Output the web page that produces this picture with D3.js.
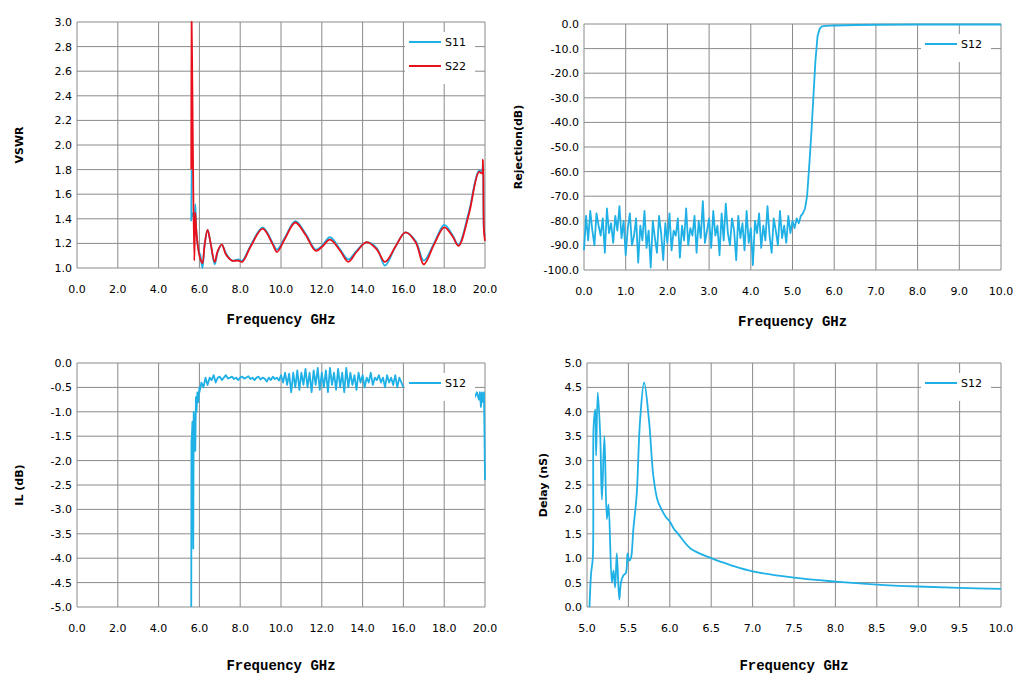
<!DOCTYPE html>
<html><head><meta charset="utf-8">
<script src="https://cdn.jsdelivr.net/npm/d3@7"></script>
<style>body{margin:0;background:#fff}svg{display:block}</style>
</head><body><svg id="chart" width="1021" height="691"></svg>
<script>
// VSWR (0-20 GHz)
const vswrF11 = [5.6,5.62,5.64,5.7,5.75,5.8,5.85,5.95,6.05,6.15,6.25,6.4,6.55,6.75,6.9,7.1,7.3,7.6,7.9,8.1,8.5,9.1,9.6,9.8,10.2,10.7,11.2,11.7,12.0,12.4,12.9,13.3,13.7,14.2,14.7,15.1,15.6,16.1,16.6,17.0,17.5,18.0,18.4,18.7,19.2,19.7,19.85,19.9,19.95,20.0];
const vswrS11 = [1.38,1.8,1.42,1.45,1.35,1.52,1.3,1.15,1.1,1.0,1.18,1.31,1.2,1.03,1.13,1.19,1.12,1.06,1.07,1.06,1.18,1.33,1.2,1.15,1.25,1.38,1.28,1.15,1.18,1.25,1.15,1.07,1.14,1.21,1.16,1.02,1.17,1.29,1.22,1.06,1.2,1.35,1.27,1.19,1.45,1.79,1.79,1.85,1.3,1.26];
const vswrF22 = [5.6,5.62,5.65,5.68,5.75,5.8,5.85,5.95,6.05,6.15,6.25,6.4,6.55,6.75,6.9,7.1,7.3,7.6,7.9,8.1,8.5,9.1,9.6,9.8,10.2,10.7,11.2,11.7,12.0,12.4,12.9,13.3,13.7,14.2,14.7,15.1,15.6,16.1,16.6,17.0,17.5,18.0,18.4,18.7,19.2,19.7,19.85,19.9,19.95,20.0];
const vswrS22 = [1.8,3.0,2.55,2.0,1.06,1.45,1.3,1.15,1.07,1.04,1.18,1.31,1.2,1.05,1.14,1.19,1.11,1.06,1.06,1.05,1.17,1.32,1.19,1.13,1.24,1.37,1.27,1.14,1.17,1.23,1.14,1.05,1.13,1.21,1.15,1.05,1.17,1.29,1.21,1.03,1.19,1.33,1.26,1.18,1.43,1.78,1.77,1.88,1.3,1.22];

// Rejection S12 (0-10 GHz), noise floor 0..5.2 GHz every 0.05
const rejNoise = [-92,-78,-88,-76,-84,-90,-77,-82,-86,-79,-93,-75,-85,-81,-89,-78,-84,-74,-87,-80,-94,-83,-77,-90,-86,-79,-97,-82,-88,-76,-91,-84,-99,-80,-87,-93,-78,-85,-96,-81,-89,-77,-92,-84,-86,-79,-95,-82,-88,-75,-90,-83,-86,-78,-93,-80,-87,-72,-89,-84,-79,-91,-76,-86,-82,-94,-77,-88,-73,-85,-90,-79,-84,-96,-78,-87,-81,-92,-76,-89,-83,-98,-80,-85,-77,-91,-82,-88,-74,-86,-93,-79,-84,-90,-76,-87,-82,-89,-78,-85,-80,-83,-79,-81,-78];
const rejTailF = [5.25,5.3,5.35,5.4,5.45,5.5,5.55,5.6,5.65,5.7,5.8,6.0,6.5,7.0,8.0,9.0,10.0];
const rejTail = [-77,-75,-70,-58,-45,-30,-15,-5,-2,-1,-0.8,-0.6,-0.4,-0.3,-0.2,-0.2,-0.2];

// IL S12 (0-20 GHz)
const ilEdgeF = [5.6,5.61,5.63,5.66,5.7,5.72,5.76,5.8,5.83,5.86,5.9,5.95,6.0];
const ilEdge = [-5.0,-1.6,-1.5,-1.2,-3.8,-1.0,-1.4,-1.8,-0.7,-1.0,-0.6,-0.8,-0.5];
const ilMid = [-0.6,-0.4,-0.5,-0.3,-0.45,-0.3,-0.35,-0.25,-0.4,-0.3,-0.28,-0.35,-0.3,-0.25,-0.32,-0.3,-0.28,-0.33,-0.3,-0.35,-0.3,-0.28,-0.32,-0.3,-0.27,-0.33,-0.3,-0.35,-0.3,-0.28,-0.34,-0.3,-0.32,-0.38,-0.3,-0.35,-0.28,-0.33,-0.3,-0.36,-0.25,-0.4,-0.2,-0.45,-0.22,-0.6,-0.2,-0.5,-0.15,-0.55,-0.2,-0.45,-0.12,-0.5,-0.2,-0.6,-0.15,-0.45,-0.1,-0.55,-0.2,-0.5,-0.15,-0.6,-0.1,-0.45,-0.2,-0.55,-0.12,-0.5,-0.2,-0.6,-0.1,-0.5,-0.2,-0.45,-0.25,-0.55,-0.2,-0.4,-0.25,-0.5,-0.3,-0.4,-0.2,-0.45,-0.3,-0.35,-0.25,-0.4,-0.3,-0.5,-0.25,-0.4,-0.3,-0.45,-0.25,-0.5,-0.3,-0.4,-0.5];
const ilEndF = [19.3,19.4,19.5,19.6,19.7,19.75,19.8,19.85,19.9,19.95,20.0];
const ilEnd = [-0.6,-0.65,-0.7,-0.6,-0.75,-0.6,-0.9,-0.6,-0.8,-0.6,-2.4];

// Delay S12 (5-10 GHz)
const delayF = [5.03,5.05,5.07,5.08,5.1,5.11,5.13,5.16,5.18,5.21,5.24,5.26,5.3,5.32,5.34,5.36,5.39,5.41,5.44,5.47,5.49,5.51,5.53,5.56,5.6,5.64,5.69,5.75,5.8,5.85,5.9,5.95,6.0,6.05,6.1,6.25,6.5,6.75,7.0,7.5,8.0,8.5,9.0,9.5,10.0];
const delay = [0,0.7,1.0,3.7,4.05,3.1,4.4,3.5,2.2,3.5,1.8,2.1,0.5,0.75,0.4,1.1,0.15,0.5,0.65,0.7,1.1,0.95,1.0,1.6,2.3,3.8,4.6,3.8,2.7,2.2,2.0,1.85,1.75,1.6,1.5,1.2,1.0,0.85,0.73,0.6,0.52,0.46,0.42,0.39,0.37];

const rejF = d3.range(rejNoise.length).map(i => i * 0.05);
const ilMidF = d3.range(ilMid.length).map(i => 6.0 + i * 0.1);
const toPts = (xs, ys) => xs.map((x, i) => [x, ys[i]]);

const BLUE = '#1fb0e6', RED = '#e8101a';
const svg = d3.select('#chart');

function panel(o) {
  const x = d3.scaleLinear().domain(o.xd).range([o.l, o.r]);
  const y = d3.scaleLinear().domain(o.yd).range([o.b, o.t]);
  const g = svg.append('g');
  const xt = d3.range(o.xd[0], o.xd[1] + 1e-9, o.xs);
  const yt = d3.range(o.yd[0], o.yd[1] + 1e-9, o.ys);
  g.selectAll('.vx').data(xt).enter().append('line')
    .attr('x1', d => x(d)).attr('x2', d => x(d)).attr('y1', o.t).attr('y2', o.b)
    .attr('stroke', '#8a8a8a').attr('stroke-width', 1);
  g.selectAll('.hy').data(yt).enter().append('line')
    .attr('x1', o.l).attr('x2', o.r).attr('y1', d => y(d)).attr('y2', d => y(d))
    .attr('stroke', '#8a8a8a').attr('stroke-width', 1);
  g.selectAll('.xl').data(xt).enter().append('text')
    .attr('x', d => x(d)).attr('y', o.b + 25).attr('text-anchor', 'middle')
    .attr('font-family', 'DejaVu Sans').attr('font-size', 11).text(d => d.toFixed(1));
  g.selectAll('.yl').data(yt).enter().append('text')
    .attr('x', o.l - 5).attr('y', d => y(d) + 4).attr('text-anchor', 'end')
    .attr('font-family', 'DejaVu Sans').attr('font-size', 11).text(d => d.toFixed(1));
  g.append('text').attr('x', (o.l + o.r) / 2).attr('y', o.xty).attr('text-anchor', 'middle')
    .attr('font-family', "'Liberation Mono', 'DejaVu Sans Mono', monospace").attr('font-weight', 'bold').attr('font-size', 14)
    .text('Frequency GHz');
  g.append('text').attr('transform', `translate(${o.yt},${(o.t + o.b) / 2}) rotate(-90)`)
    .attr('text-anchor', 'middle').attr('font-family', 'DejaVu Sans').attr('font-weight', 'bold')
    .attr('font-size', 11).text(o.ylabel);
  const line = d3.line().x(d => x(d[0])).y(d => y(d[1])).defined(d => d[1] != null)
    .curve(o.smooth ? d3.curveCatmullRom.alpha(0.5) : d3.curveLinear);
  o.series.forEach(s => {
    g.append('path').attr('d', line(s.pts)).attr('fill', 'none')
      .attr('stroke', s.color).attr('stroke-width', 1.8).attr('stroke-linejoin', 'round');
  });
  // legend
  const lx = o.r - 80, ly = o.t + 10;
  g.append('rect').attr('x', lx).attr('y', ly).attr('width', 70).attr('height', o.legend.length * 24 + 4)
    .attr('fill', '#fff');
  o.legend.forEach((s, i) => {
    const yy = ly + 10 + i * 24;
    g.append('line').attr('x1', lx + 4).attr('x2', lx + 36).attr('y1', yy).attr('y2', yy)
      .attr('stroke', s.color).attr('stroke-width', 2);
    g.append('text').attr('x', lx + 40).attr('y', yy + 4).attr('font-family', 'DejaVu Sans')
      .attr('font-size', 11).text(s.name);
  });
}

panel({l: 77, r: 485, t: 22, b: 268, yt: 23, xty: 324, smooth: true, xd: [0, 20], xs: 2, yd: [1, 3], ys: 0.2, ylabel: 'VSWR',
  series: [{pts: toPts(vswrF11, vswrS11), color: BLUE}, {pts: toPts(vswrF22, vswrS22), color: RED}],
  legend: [{name: 'S11', color: BLUE}, {name: 'S22', color: RED}]});

panel({l: 584, r: 1001, t: 24, b: 270, yt: 522, xty: 326, xd: [0, 10], xs: 1, yd: [-100, 0], ys: 10, ylabel: 'Rejection(dB)',
  series: [{pts: toPts(rejF, rejNoise).concat(toPts(rejTailF, rejTail)), color: BLUE}],
  legend: [{name: 'S12', color: BLUE}]});

panel({l: 77, r: 485, t: 363, b: 607, yt: 23, xty: 670, xd: [0, 20], xs: 2, yd: [-5, 0], ys: 0.5, ylabel: 'IL (dB)',
  series: [{pts: toPts(ilEdgeF, ilEdge).concat(toPts(ilMidF, ilMid)), color: BLUE},
           {pts: toPts(ilEndF, ilEnd), color: BLUE}],
  legend: [{name: 'S12', color: BLUE}]});

panel({l: 587, r: 1001, t: 363, b: 607, yt: 547, xty: 670, smooth: true, xd: [5, 10], xs: 0.5, yd: [0, 5], ys: 0.5, ylabel: 'Delay (nS)',
  series: [{pts: toPts(delayF, delay), color: BLUE}],
  legend: [{name: 'S12', color: BLUE}]});
</script></body></html>
